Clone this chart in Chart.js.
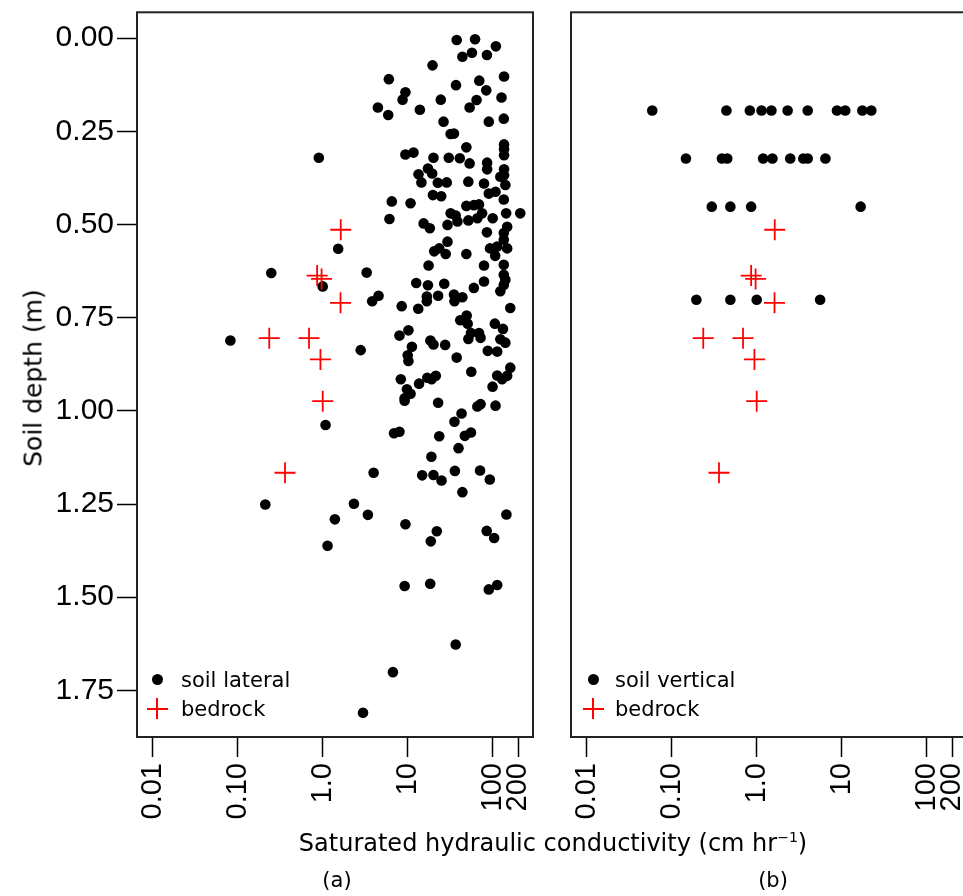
<!DOCTYPE html>
<html>
<head>
<meta charset="utf-8">
<script src="https://cdn.jsdelivr.net/npm/chart.js@4.4.1/dist/chart.umd.min.js"></script>
<style>
html, body { margin: 0; padding: 0; overflow: hidden; background: #fff; width: 963px; height: 896px; }
canvas { position: absolute; top: 0; }
#panelA { left: 0; }
#panelB { left: 551px; }
.txt { position: absolute; font-family: "DejaVu Sans", sans-serif; color: #000; white-space: nowrap; }
.dot { position: absolute; width: 11px; height: 11px; border-radius: 50%; background: #000; }
.cross { position: absolute; width: 21px; height: 21px; }
.cross::before, .cross::after { content: ""; position: absolute; background: #ff0000; }
.cross::before { left: 0; top: 9.5px; width: 21px; height: 2px; }
.cross::after { top: 0; left: 9.5px; width: 2px; height: 21px; }
</style>
</head>
<body>
<canvas id="panelA" width="553" height="896"></canvas>
<canvas id="panelB" width="436" height="896"></canvas>

<div class="txt" style="left:33px; top:378px; font-size:25px; transform:translate(-50%,-50%) rotate(-90deg);">Soil depth (m)</div>
<div class="txt" style="left:553px; top:843px; font-size:24px; transform:translate(-50%,-50%);">Saturated hydraulic conductivity (cm hr<sup style="font-size:14px;">−1</sup>)</div>
<div class="txt" style="left:337px; top:880px; font-size:21px; transform:translate(-50%,-50%);">(a)</div>
<div class="txt" style="left:773px; top:880px; font-size:21px; transform:translate(-50%,-50%);">(b)</div>

<div class="dot" style="left:151.5px; top:673.5px;"></div>
<div class="txt" style="left:181px; top:680px; font-size:21px; transform:translateY(-50%);">soil lateral</div>
<div class="cross" style="left:146.5px; top:698px;"></div>
<div class="txt" style="left:181px; top:709px; font-size:21px; transform:translateY(-50%);">bedrock</div>

<div class="dot" style="left:587.5px; top:673.5px;"></div>
<div class="txt" style="left:615px; top:680px; font-size:21px; transform:translateY(-50%);">soil vertical</div>
<div class="cross" style="left:582.5px; top:698px;"></div>
<div class="txt" style="left:615px; top:709px; font-size:21px; transform:translateY(-50%);">bedrock</div>

<script>
// axis ticks
const depthTicks = [0, 0.25, 0.5, 0.75, 1, 1.25, 1.5, 1.75];
const kTicks = [0.01, 0.1, 1, 10, 100, 200];
const kTickLabels = ['0.01', '0.10', '1.0', '10', '100', '200'];

// (a) soil lateral Ksat (cm/hr) and depth (m)
const lateralK = [
  37.7, 62, 109, 44, 57, 85.5, 19.6, 6.0, 136, 37, 69.5, 84, 9.4, 8.7, 24.5, 127, 64.6, 4.46, 5.9, 13.9,
  53.5, 26.4, 90, 135, 32, 35, 49, 136, 136, 136, 0.90, 9.4, 11.7, 20.1, 30.4, 41, 53.5, 86, 86, 17.3,
  19.4, 13.4, 14.5, 136, 136, 123, 22.6, 28.8, 51.7, 79, 141, 90, 108, 19.8, 24.8, 6.5, 10.8, 135, 49, 60,
  69, 144, 211, 32, 36.7, 75, 6.1, 15.4, 18.2, 29.4, 38.5, 51.7, 66, 100, 148, 135, 85.5, 1.52,
  29.4, 23.5, 20.5, 28, 49, 135, 113, 148, 93, 107, 135, 79, 17.6, 0.248, 3.29, 1.0, 135, 141, 135, 123,
  79, 60, 12.6, 17.3, 26.9, 16.8, 16.8, 22.8, 35, 35.5, 44, 3.82, 4.54, 8.5, 13.3, 161, 49.4, 41.5, 50.8, 106,
  132, 55.5, 69, 72, 51.7, 10.2, 8.0, 18.5, 20.1, 27.6, 11.2, 10, 10.2, 37.7, 123, 141, 87.5, 113, 161, 56,
  113, 129, 148, 99.6, 17.0, 21.4, 19.1, 13.6, 8.3, 9.8, 10.8, 9.2, 9.2, 22.8, 66, 72, 108, 43, 35.5, 55.5,
  47, 6.9, 8.0, 23.5, 39.6, 19.0, 1.08, 3.97, 14.8, 20.1, 25.0, 35.9, 71, 92.5, 0.082, 2.8,
  44, 0.211, 2.33, 1.39, 3.40, 1.14, 9.4, 22.0, 18.7, 145, 85, 104, 9.2, 18.4, 90, 113, 36.7, 6.7, 2.98
];
const lateralDepth = [
  0.005, 0.003, 0.022, 0.050, 0.039, 0.045, 0.073, 0.110, 0.103, 0.126, 0.114, 0.140, 0.145, 0.165, 0.165, 0.159, 0.166, 0.186, 0.206, 0.192,
  0.186, 0.224, 0.224, 0.216, 0.257, 0.256, 0.293, 0.285, 0.298, 0.314, 0.321, 0.312, 0.307, 0.321, 0.321, 0.322, 0.336, 0.334, 0.352, 0.350,
  0.363, 0.365, 0.387, 0.352, 0.368, 0.372, 0.388, 0.387, 0.385, 0.390, 0.394, 0.417, 0.412, 0.421, 0.424, 0.438, 0.443, 0.433, 0.450, 0.448,
  0.446, 0.470, 0.470, 0.470, 0.476, 0.470, 0.485, 0.497, 0.510, 0.501, 0.492, 0.489, 0.483, 0.483, 0.506, 0.523, 0.521, 0.565,
  0.546, 0.564, 0.572, 0.579, 0.579, 0.541, 0.559, 0.564, 0.564, 0.584, 0.608, 0.610, 0.610, 0.630, 0.629, 0.666, 0.635, 0.648, 0.662, 0.679,
  0.653, 0.670, 0.657, 0.663, 0.659, 0.693, 0.706, 0.691, 0.688, 0.706, 0.695, 0.706, 0.691, 0.719, 0.726, 0.724, 0.744, 0.757, 0.766, 0.766,
  0.780, 0.791, 0.791, 0.804, 0.807, 0.784, 0.798, 0.811, 0.822, 0.823, 0.828, 0.851, 0.866, 0.857, 0.808, 0.817, 0.839, 0.841, 0.884, 0.895,
  0.905, 0.915, 0.906, 0.935, 0.911, 0.906, 0.915, 0.927, 0.915, 0.942, 0.954, 0.966, 0.973, 0.978, 0.988, 0.982, 0.986, 1.007, 1.029, 1.058,
  1.067, 1.060, 1.056, 1.068, 1.100, 1.123, 1.038, 1.166, 1.173, 1.172, 1.187, 1.161, 1.160, 1.184, 0.811, 0.837,
  1.218, 1.251, 1.249, 1.291, 1.279, 1.362, 1.304, 1.323, 1.350, 1.278, 1.322, 1.341, 1.470, 1.464, 1.479, 1.467, 1.627, 1.701, 1.810
];

// (b) soil vertical Ksat and depth
const verticalK = [
  0.059, 0.44, 0.83, 1.14, 1.49, 2.31, 3.98, 8.8, 11.0, 17.5, 22.3,
  0.147, 0.39, 0.45, 1.19, 1.53, 2.48, 3.53, 3.98, 6.43,
  0.296, 0.49, 0.86, 16.7,
  0.195, 0.49, 1.0, 5.57
];
const verticalDepth = [
  0.194, 0.194, 0.194, 0.194, 0.194, 0.194, 0.194, 0.194, 0.194, 0.194, 0.194,
  0.323, 0.323, 0.323, 0.323, 0.323, 0.323, 0.323, 0.323, 0.323,
  0.452, 0.452, 0.452, 0.452,
  0.702, 0.702, 0.702, 0.702
];

// bedrock (same in both panels)
const bedrockK = [1.63, 0.86, 0.97, 1.62, 0.235, 0.69, 0.94, 1.0, 0.36];
const bedrockDepth = [0.514, 0.637, 0.646, 0.710, 0.805, 0.805, 0.862, 0.974, 1.166];

function toPoints(xs, ys) {
    return xs.map((x, i) => ({ x: x, y: ys[i] }));
}

const boxPlugin = {
    id: 'box',
    afterDraw(chart) {
        const a = chart.chartArea;
        const ctx = chart.ctx;
        ctx.save();
        ctx.strokeStyle = '#222';
        ctx.lineWidth = 2;
        ctx.strokeRect(a.left, a.top, a.right - a.left, a.bottom - a.top);
        ctx.restore();
    }
};

const tickFamily = 'Arial, "Liberation Sans", sans-serif';

function makePanel(canvas, soilK, soilDepth, showY, padding) {
    const config = {
        type: 'scatter',
        data: {
            datasets: [
                {
                    label: 'soil',
                    data: toPoints(soilK, soilDepth),
                    pointStyle: 'circle',
                    pointRadius: 5.3,
                    backgroundColor: '#000',
                    borderColor: '#000',
                    borderWidth: 0,
                    order: 1
                },
                {
                    label: 'bedrock',
                    data: toPoints(bedrockK, bedrockDepth),
                    pointStyle: 'cross',
                    pointRadius: 10.5,
                    borderColor: '#ff0000',
                    borderWidth: 1.8,
                    order: 0
                }
            ]
        },
        options: {
            responsive: false,
            devicePixelRatio: 1,
            animation: false,
            layout: { padding: padding },
            plugins: { legend: { display: false }, tooltip: { enabled: false } },
            scales: {
                x: {
                    type: 'logarithmic',
                    min: 0.00653,
                    max: 298,
                    afterBuildTicks: s => { s.ticks = kTicks.map(v => ({ value: v })); },
                    afterFit: s => {
                        s.height = 159;
                        s.paddingLeft = 0;
                        s.paddingRight = 0;
                    },
                    ticks: {
                        autoSkip: false,
                        minRotation: 90,
                        maxRotation: 90,
                        padding: 6,
                        color: '#000',
                        font: { family: tickFamily, size: 29 },
                        callback: (v, i) => kTickLabels[i]
                    },
                    grid: { drawOnChartArea: false, tickLength: 20, tickColor: '#000', tickWidth: 1.5 },
                    border: { display: false }
                },
                y: {
                    type: 'linear',
                    display: showY,
                    reverse: true,
                    min: -0.0694,
                    max: 1.875,
                    afterBuildTicks: s => { s.ticks = depthTicks.map(v => ({ value: v })); },
                    afterFit: s => {
                        if (showY) s.width = 137;
                        s.paddingTop = 0;
                        s.paddingBottom = 0;
                    },
                    ticks: {
                        padding: 3,
                        color: '#000',
                        font: { family: tickFamily, size: 30 },
                        callback: v => v.toFixed(2)
                    },
                    grid: { drawOnChartArea: false, tickLength: 20, tickColor: '#000', tickWidth: 1.5 },
                    border: { display: false }
                }
            }
        },
        plugins: [boxPlugin]
    };
    return new Chart(canvas.getContext('2d'), config);
}

makePanel(document.getElementById('panelA'), lateralK, lateralDepth, true, { top: 8, right: 20, left: 0, bottom: 0 });
makePanel(document.getElementById('panelB'), verticalK, verticalDepth, false, { top: 8, right: 20, left: 20, bottom: 0 });
</script>
</body>
</html>
